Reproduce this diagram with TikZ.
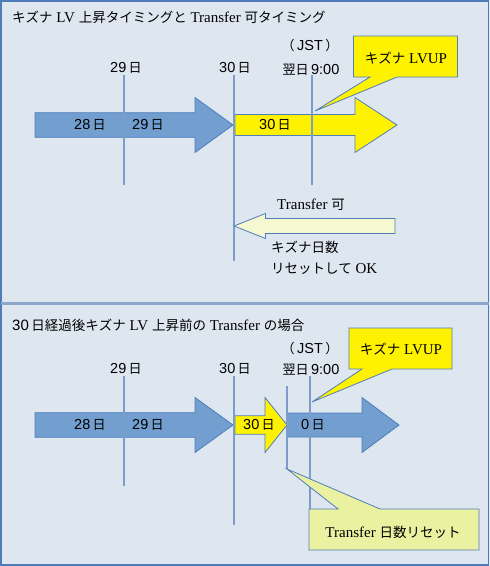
\documentclass[tikz,border=0pt]{standalone}
\usepackage{fontspec}
\setmainfont{Liberation Serif}
\setsansfont{Liberation Sans}
\newfontfamily\jpfont[Scale=0.9]{Noto Sans CJK JP}
\newcommand{\ja}[1]{{\jpfont #1}}
\usetikzlibrary{positioning}

\definecolor{panelbg}{HTML}{DEE6F0}
\definecolor{panelline}{HTML}{4F7BB8}
\definecolor{sepline}{HTML}{8DA7CF}
\definecolor{arrowblue}{HTML}{729FCF}
\definecolor{edgeblue}{HTML}{4F7EBA}
\definecolor{markline}{HTML}{7C9DCB}
\definecolor{paleyellow}{HTML}{F6F8D0}
\definecolor{notegreen}{HTML}{EAF1A1}

% style, tail x, head base x, tip x, mid y, half body, half head
\newcommand{\blockarrow}[7]{%
  \draw[#1] (#2,#5-#6) -- (#3,#5-#6) -- (#3,#5-#7) -- (#4,#5)
    -- (#3,#5+#7) -- (#3,#5+#6) -- (#2,#5+#6) -- cycle;}

\begin{document}
\begin{tikzpicture}[x=1pt, y=-1pt,
  every node/.style={font=\fontsize{15}{18}\selectfont, inner sep=0pt},
  title/.style={anchor=west},
  daylabel/.style={font=\sffamily\fontsize{14.5}{17}\selectfont},
  marker/.style={draw=markline, line width=1.5pt},
  bluearrow/.style={fill=arrowblue, draw=edgeblue, line width=0.8pt},
  yellowarrow/.style={fill=yellow, draw=edgeblue, line width=0.8pt},
  backarrow/.style={fill=paleyellow, draw=edgeblue, line width=0.8pt},
  balloon/.style={fill=yellow, draw=edgeblue, line width=0.8pt},
  note/.style={fill=notegreen, draw=edgeblue, line width=0.8pt}]

  \useasboundingbox (0,0) rectangle (490,566);
  \fill[panelbg] (0,0) rectangle (490,566);
  \draw[panelline, line width=1.2pt] (1,1) rectangle (488.5,565);
  \draw[sepline, line width=2.5pt] (1,303.3) -- (488.5,303.3);

  % upper panel
  \node[title] (title1) at (12,17) {\ja{キズナ} LV \ja{上昇タイミングと} Transfer \ja{可タイミング}};
  \node[daylabel] (up29) at (126,68) {29\,\ja{日}};
  \node[daylabel] (up30) at (235,68) {30\,\ja{日}};
  \node[daylabel] (upjst) at (310,46) {\ja{（}\,JST\,\ja{）}};
  \node[daylabel] (upnext) at (311,70) {\ja{翌日}\,9:00};

  \blockarrow{bluearrow}{35}{195}{233}{125}{12.3}{27.5}
  \blockarrow{yellowarrow}{235}{355}{397}{125}{10.5}{27.5}

  \draw[marker] (124,75) -- (124,185);
  \draw[marker] (234,75) -- (234,261);
  \draw[marker] (312,75) -- (312,185);

  \node[daylabel] (upday28) at (90,125) {28\,\ja{日}};
  \node[daylabel] (upday29) at (148,125) {29\,\ja{日}};
  \node[daylabel] (upday30) at (275,125) {30\,\ja{日}};

  \draw[balloon] (353.5,36) -- (457.5,36) -- (457.5,77) -- (397,77)
    -- (315,111) -- (370,77) -- (353.5,77) -- cycle;
  \node (uplvup) at (406,58) {\ja{キズナ} LVUP};

  \blockarrow{backarrow}{395}{265.5}{234}{226}{7.5}{12.5}
  \node (upok) at (311,205) {Transfer \ja{可}};
  \node[anchor=west] (upreset) at (271,247) {\ja{キズナ日数}};
  \node[anchor=west] (upreset2) at (271,269) {\ja{リセットして} OK};

  % lower panel
  \node[title] (title2) at (12,325) {\textsf{30}\,\ja{日経過後キズナ} LV \ja{上昇前の} Transfer \ja{の場合}};
  \node[daylabel] (lo29) at (126,369) {29\,\ja{日}};
  \node[daylabel] (lo30) at (235,369) {30\,\ja{日}};
  \node[daylabel] (lojst) at (310,349) {\ja{（}\,JST\,\ja{）}};
  \node[daylabel] (lonext) at (311,370) {\ja{翌日}\,9:00};

  \blockarrow{bluearrow}{35}{195}{233}{425}{12.3}{27.5}
  \blockarrow{yellowarrow}{235}{265}{287}{425}{9.2}{27.5}
  \blockarrow{bluearrow}{287}{362}{399}{425}{12}{27.5}

  \draw[marker] (124,376) -- (124,486);
  \draw[marker] (234,376) -- (234,525);
  \draw[marker] (287,386) -- (287,469);
  \draw[marker] (310,376) -- (310,509);

  \node[daylabel] (loday28) at (90,425) {28\,\ja{日}};
  \node[daylabel] (loday29) at (148,425) {29\,\ja{日}};
  \node[daylabel] (loday30) at (259,425) {30\,\ja{日}};
  \node[daylabel] (loday0) at (313,425) {0\,\ja{日}};

  \draw[balloon] (349,328) -- (452,328) -- (452,369) -- (392,369)
    -- (312,402) -- (362,369) -- (349,369) -- cycle;
  \node (lolvup) at (401,349) {\ja{キズナ} LVUP};

  \draw[note] (309,509) -- (338,509) -- (287,469) -- (380,509)
    -- (479,509) -- (479,550) -- (309,550) -- cycle;
  \node (loreset) at (393,532) {Transfer \ja{日数リセット}};

\end{tikzpicture}
\end{document}
